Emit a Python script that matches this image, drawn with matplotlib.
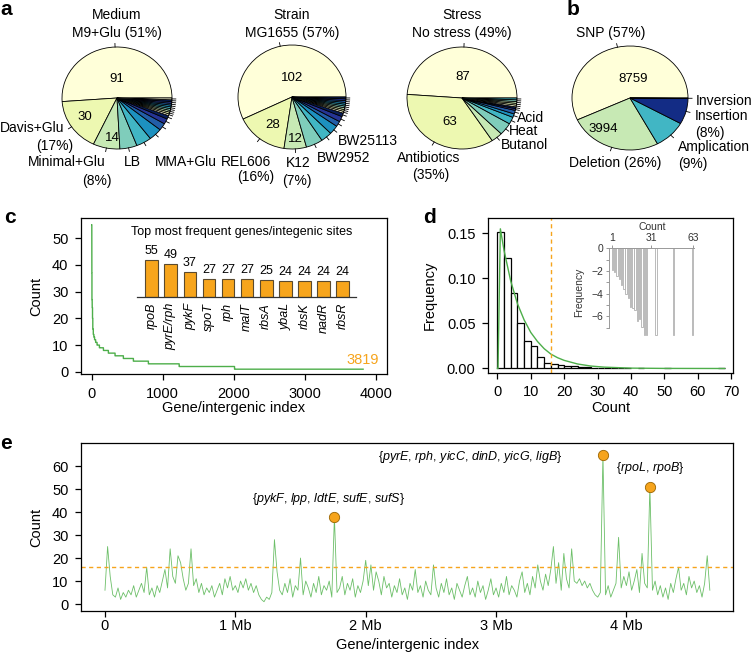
import numpy as np
import matplotlib
matplotlib.use('Agg')
import matplotlib.pyplot as plt

plt.rcParams['font.family'] = ['Liberation Sans', 'DejaVu Sans']
plt.rcParams['mathtext.fontset'] = 'custom'
plt.rcParams['mathtext.rm'] = 'Liberation Sans'
plt.rcParams['mathtext.it'] = 'Liberation Sans:italic'
plt.rcParams['axes.linewidth'] = 0.9

# ---------------- data ----------------
ylgnbu = ['#ffffd9', '#edf8b1', '#c7e9b4', '#7fcdbb', '#41b6c4',
          '#1d91c0', '#225ea8', '#253494', '#081d58']

medium_values = [91, 30, 14, 9, 8, 7, 4, 3, 2, 1, 1, 1, 1, 1, 1, 1, 1, 1, 1]
strain_values = [102, 28, 12, 9, 6, 5, 3, 3, 2, 1, 1, 1, 1, 1, 1, 1, 1, 1]
stress_values = [87, 63, 6, 7, 4, 2, 2, 1, 1, 1, 1, 1, 1, 1]

mut_types = ['SNP', 'Deletion', 'Amplication', 'Insertion', 'Inversion']
mut_counts = [8759, 3994, 1383, 1229, 25]
mut_colors = ['#ffffd9', '#c7e9b4', '#41b6c4', '#132c85', '#081d58']

# panel c: sorted counts (count value, last index of its run)
rank_counts = [55, 49, 37, 27, 25, 24, 20, 16, 14, 13, 12, 11, 10, 9, 8, 7, 6, 5, 4, 3, 2, 1]
rank_ends = [1, 2, 3, 6, 7, 11, 15, 22, 30, 40, 55, 75, 108, 164, 234, 328, 445, 586, 797, 1230, 2009, 3819]
top_genes = ['rpoB', 'pyrE/rph', 'pykF', 'spoT', 'rph', 'malT', 'rbsA', 'ybaL', 'rbsK', 'nadR', 'rbsR']
top_counts = [55, 49, 37, 27, 27, 27, 25, 24, 24, 24, 24]

# panel d: histogram (bin width 2, starting at 0)
hist_freq = [0.152, 0.123, 0.084, 0.051, 0.031, 0.025, 0.013, 0.0063, 0.0055, 0.0044,
             0.0033, 0.0026, 0.0018, 0.0012, 0.0008, 0.0005, 0.0005, 0.0003, 0.0008, 0.0003,
             0.0, 0.0003, 0.0, 0.0, 0.0, 0.0006, 0.0, 0.0, 0.0, 0.0, 0.0, 0.0, 0.0, 0.0006]
fit_x = [0, 0.2, 0.9, 2, 4, 6, 8, 10, 12, 14, 16, 18, 20, 24, 28, 32, 40, 50, 68]
fit_y = [0, 0.0, 0.155, 0.131, 0.097, 0.072, 0.054, 0.040, 0.030, 0.022, 0.016, 0.012,
         0.009, 0.005, 0.0027, 0.0015, 0.0004, 0.0001, 0.0]
threshold = 16
inset_pos = [1, 2.8, 4.5, 6.3, 8, 9.8, 11.5, 13.3, 15, 16.8, 18.5, 20.3, 22, 23.8, 25.5, 27.3, 34.5, 48, 62.5]
inset_logfreq = [-1.9, -2.1, -2.4, -2.7, -3.2, -3.6, -4.0, -4.4, -5.2, -5.3, -5.4, -6.4, -6.2,
                 -6.9, -7.6, -7.6, -7.6, -7.6, -7.6]

# panel e: counts along genome (20 kb bins)
e_counts = [6, 25, 12, 4, 3, 7, 2, 5, 3, 6,
            4, 8, 3, 6, 9, 5, 16, 4, 7, 3,
            8, 5, 10, 15, 7, 24, 12, 9, 21, 18,
            11, 6, 9, 24, 8, 11, 5, 9, 4, 7,
            5, 8, 3, 6, 9, 4, 11, 7, 12, 6,
            8, 5, 10, 7, 11, 6, 9, 5, 8, 4,
            2, 1, 3, 2, 5, 28, 14, 6, 4, 9,
            5, 11, 3, 8, 6, 20, 4, 10, 7, 3,
            9, 5, 12, 4, 8, 6, 10, 3, 38, 5,
            7, 12, 4, 9, 6, 11, 3, 8, 5, 10,
            19, 8, 17, 6, 14, 10, 4, 12, 7, 9,
            3, 8, 5, 11, 4, 7, 2, 9, 6, 15,
            5, 8, 3, 10, 6, 4, 17, 7, 3, 9,
            5, 11, 4, 7, 2, 9, 6, 3, 8, 12,
            4, 7, 3, 10, 5, 8, 2, 6, 11, 4,
            7, 3, 9, 5, 12, 4, 8, 6, 3, 10,
            14, 5, 9, 4, 12, 7, 17, 10, 6, 13,
            8, 15, 25, 9, 18, 6, 22, 11, 7, 24,
            10, 9, 11, 8, 10, 7, 9, 6, 4, 3,
            5, 65, 4, 8, 3, 6, 9, 29, 7, 12,
            8, 14, 6, 10, 15, 5, 22, 9, 7, 51,
            6, 10, 4, 8, 3, 7, 2, 9, 5, 11,
            16, 6, 9, 4, 12, 7, 10, 5, 8, 3,
            9, 21, 6]
bin_mb = 0.02
hl_pos = [1.76, 3.82, 4.18]
hl_counts = [38, 65, 51]
hl_labels = [r'{$\mathit{pykF}$, $\mathit{lpp}$, $\mathit{ldtE}$, $\mathit{sufE}$, $\mathit{sufS}$}',
             r'{$\mathit{pyrE}$, $\mathit{rph}$, $\mathit{yicC}$, $\mathit{dinD}$, $\mathit{yicG}$, $\mathit{ligB}$}',
             r'{$\mathit{rpoL}$, $\mathit{rpoB}$}']

GREEN = '#4dae4a'
ORANGE = '#f6a41c'
PIEFS = 10

# ---------------- figure ----------------
W, H = 754, 658
fig = plt.figure(figsize=(W / 100, H / 100), dpi=100)


def rect(x0, y0, x1, y1):
    return [x0 / W, 1 - y1 / H, (x1 - x0) / W, (y1 - y0) / H]


def ftext(x, y, s, **kw):
    kw.setdefault('ha', 'center')
    kw.setdefault('va', 'center')
    kw.setdefault('fontsize', PIEFS)
    fig.text(x / W, 1 - y / H, s, **kw)


def draw_pie(values, colors, cx, cy, rx, ry):
    ax = fig.add_axes(rect(cx - rx, cy - ry, cx + rx, cy + ry))
    wedges, _ = ax.pie(values, colors=colors, startangle=0, counterclock=True,
                       wedgeprops=dict(edgecolor='black', linewidth=0.6))
    ax.set_aspect('auto')
    ax.set_xlim(-1, 1)
    ax.set_ylim(-1, 1)
    ax.axis('off')
    for w in wedges:
        w.set_clip_on(False)
        a = np.deg2rad((w.theta1 + w.theta2) / 2)
        ax.plot([np.cos(a), 1.07 * np.cos(a)], [np.sin(a), 1.07 * np.sin(a)],
                color='black', lw=0.6, clip_on=False)
    return ax


def style_axes(ax):
    ax.tick_params(direction='out', length=4, width=0.9, labelsize=10.5, color='black')
    for s in ax.spines.values():
        s.set_linewidth(0.9)


# ---- panel a ----
draw_pie(medium_values, [ylgnbu[i % 9] for i in range(len(medium_values))], 117, 98, 55, 51)
draw_pie(strain_values, [ylgnbu[i % 9] for i in range(len(strain_values))], 292, 97, 54, 52)
draw_pie(stress_values, [ylgnbu[i % 9] for i in range(len(stress_values))], 462, 98, 55, 51)
# ---- panel b ----
draw_pie(mut_counts, mut_colors, 630, 98, 58, 52)

ftext(6, 15, 'a', fontsize=15, fontweight='bold', va='baseline')
ftext(573, 15, 'b', fontsize=15, fontweight='bold', va='baseline')

# pie texts
ftext(117, 15, 'Medium')
ftext(117, 33, 'M9+Glu (51%)')
ftext(64, 128, 'Davis+Glu', ha='right')
ftext(55, 146, '(17%)')
ftext(67, 162, 'Minimal+Glu')
ftext(97, 181, '(8%)')
ftext(132, 162, 'LB')
ftext(186, 162, 'MMA+Glu')
ftext(117, 79, '91', fontsize=9.5)
ftext(85, 117, '30', fontsize=9.5)
ftext(112, 138, '14', fontsize=9.5)

ftext(292, 15, 'Strain')
ftext(292, 33, 'MG1655 (57%)')
ftext(246, 162, 'REL606')
ftext(256, 177, '(16%)')
ftext(298, 163, 'K12')
ftext(297, 181, '(7%)')
ftext(317, 158, 'BW2952', ha='left')
ftext(338, 141, 'BW25113', ha='left')
ftext(292, 78, '102', fontsize=9.5)
ftext(273, 125, '28', fontsize=9.5)
ftext(295, 139, '12', fontsize=9.5)

ftext(462, 15, 'Stress')
ftext(462, 33, 'No stress (49%)')
ftext(517, 118, 'Acid', ha='left')
ftext(509, 131, 'Heat', ha='left')
ftext(501, 145, 'Butanol', ha='left')
ftext(429, 158, 'Antibiotics')
ftext(431, 175, '(35%)')
ftext(463, 77, '87', fontsize=9.5)
ftext(450, 122, '63', fontsize=9.5)

ftext(611, 33, 'SNP (57%)')
ftext(752, 101, 'Inversion', ha='right')
ftext(695, 116, 'Insertion', ha='left')
ftext(695, 133, '(8%)', ha='left')
ftext(678, 147, 'Amplication', ha='left')
ftext(678, 164, '(9%)', ha='left')
ftext(615, 163, 'Deletion (26%)')
ftext(633, 79, '8759', fontsize=9.5)
ftext(603, 129, '3994', fontsize=9.5)

# ---- panel c ----
axc = fig.add_axes(rect(81, 218, 387, 374))
run_len = np.diff([0] + rank_ends)
counts_sorted = np.repeat(rank_counts, run_len)
idx = np.arange(1, len(counts_sorted) + 1)
axc.plot(idx, counts_sorted, drawstyle='steps-post', color=GREEN, lw=1.0)
axc.set_xlim(-150, 4155)
axc.set_ylim(-0.8, 57.5)
axc.set_xticks([0, 1000, 2000, 3000, 4000])
axc.set_yticks([0, 10, 20, 30, 40, 50])
style_axes(axc)
axc.tick_params(axis='x', pad=5)
axc.tick_params(axis='y', pad=5)
axc.set_xlabel('Gene/intergenic index', fontsize=10.5)
axc.set_ylabel('Count', fontsize=10.5)
axc.xaxis.set_label_coords(0.5, -0.218)
axc.xaxis.label.set_va('center')
axc.yaxis.set_label_coords(-0.145, 0.5)
axc.yaxis.label.set_va('center')
axc.text(3819, 4.5, str(len(counts_sorted)), color=ORANGE, fontsize=10.5, ha='center', va='center')
ftext(10, 223, 'c', fontsize=15, fontweight='bold', va='baseline')

axi = fig.add_axes(rect(137, 249.8, 356, 297.3))
xb = np.arange(len(top_genes))
axi.bar(xb, top_counts, width=0.66, color='#f7a51c', edgecolor='#5b4a2e', linewidth=0.8)
for xi, v in zip(xb, top_counts):
    axi.text(xi, v + 5, str(v), ha='center', va='bottom', fontsize=9)
axi.set_xlim(-0.77, 10.7)
axi.set_ylim(0, 70)
axi.set_xticks(xb)
axi.set_xticklabels(top_genes, rotation=90, fontstyle='italic', fontsize=9, va='top')
axi.tick_params(axis='x', length=0, pad=4)
axi.set_yticks([])
for s in ['top', 'left', 'right']:
    axi.spines[s].set_visible(False)
axi.spines['bottom'].set_color('#333333')
axi.patch.set_alpha(0)
ftext(242, 232, 'Top most frequent genes/integenic sites', fontsize=9)

# ---- panel d ----
axd = fig.add_axes(rect(488, 218, 733, 373))
hf = np.array(hist_freq)
left = np.arange(len(hf)) * 2
m = hf > 0
axd.bar(left[m], hf[m], width=2, align='edge', facecolor='white', edgecolor='black', linewidth=0.9)
axd.plot(fit_x, fit_y, color=GREEN, lw=1.0)
axd.axvline(threshold, color=ORANGE, ls=(0, (3, 2.5)), lw=1.0)
axd.set_xlim(-2.8, 70.5)
axd.set_ylim(-0.005, 0.167)
axd.set_xticks(range(0, 71, 10))
axd.set_yticks([0, 0.05, 0.10, 0.15])
axd.set_yticklabels(['0.00', '0.05', '0.10', '0.15'])
style_axes(axd)
axd.tick_params(axis='x', pad=5)
axd.tick_params(axis='y', pad=5)
axd.set_xlabel('Count', fontsize=10.5)
axd.set_ylabel('Frequency', fontsize=10.5)
axd.xaxis.set_label_coords(0.5, -0.226)
axd.xaxis.label.set_va('center')
axd.yaxis.set_label_coords(-0.237, 0.5)
axd.yaxis.label.set_va('center')
ftext(430, 223, 'd', fontsize=15, fontweight='bold', va='baseline')

axdi = fig.add_axes(rect(609.3, 248.3, 694, 336.3))
axdi.bar(inset_pos, inset_logfreq, width=1.1, facecolor='white', edgecolor='#b0b0b0', linewidth=0.6)
axdi.set_xlim(-1.3, 63.6)
axdi.set_ylim(-7.75, 0)
axdi.xaxis.tick_top()
axdi.set_xticks([1, 31, 63])
axdi.set_yticks([0, -2, -4, -6])
axdi.set_yticks([-1, -3, -5, -7], minor=True)
axdi.tick_params(which='both', direction='out', length=2.5, width=0.6, color='#888888',
                 labelsize=7.5, labelcolor='#333333', pad=1.5)
axdi.tick_params(which='minor', length=2.5)
for s in ['bottom', 'right']:
    axdi.spines[s].set_visible(False)
for s in ['top', 'left']:
    axdi.spines[s].set_color('#999999')
    axdi.spines[s].set_linewidth(0.7)
axdi.spines['left'].set_bounds(-7.06, 0)
axdi.patch.set_alpha(0)
ftext(652, 227, 'Count', fontsize=7.5, color='#333333')
ftext(579, 292, 'Frequency', fontsize=7.5, rotation=90, color='#333333')

# ---- panel e ----
axe = fig.add_axes(rect(81, 443.3, 733.3, 610.7))
e_pos = np.arange(len(e_counts)) * bin_mb
axe.plot(e_pos, e_counts, color='#6cbf68', lw=0.6)
axe.axhline(threshold, color=ORANGE, ls=(0, (3, 2.5)), lw=1.0)
axe.scatter(hl_pos, hl_counts, s=55, color=ORANGE, edgecolor='#9a6400', linewidth=0.6, zorder=5)
axe.set_xlim(-0.184, 4.82)
axe.set_ylim(-2.9, 69.9)
axe.set_xticks([0, 1, 2, 3, 4])
axe.set_xticklabels(['0', '1 Mb', '2 Mb', '3 Mb', '4 Mb'])
axe.set_yticks(range(0, 61, 10))
style_axes(axe)
axe.tick_params(axis='x', pad=2)
axe.tick_params(axis='y', pad=5)
axe.set_xlabel('Gene/intergenic index', fontsize=10.5)
axe.set_ylabel('Count', fontsize=10.5)
axe.xaxis.set_label_coords(0.5, -0.205)
axe.xaxis.label.set_va('center')
axe.yaxis.set_label_coords(-0.068, 0.5)
axe.yaxis.label.set_va('center')
ftext(329, 499, hl_labels[0], fontsize=9)
ftext(470, 457, hl_labels[1], fontsize=9)
ftext(650, 468, hl_labels[2], fontsize=9)
ftext(6, 449, 'e', fontsize=15, fontweight='bold', va='baseline')

fig.savefig('out.png', dpi=100)
